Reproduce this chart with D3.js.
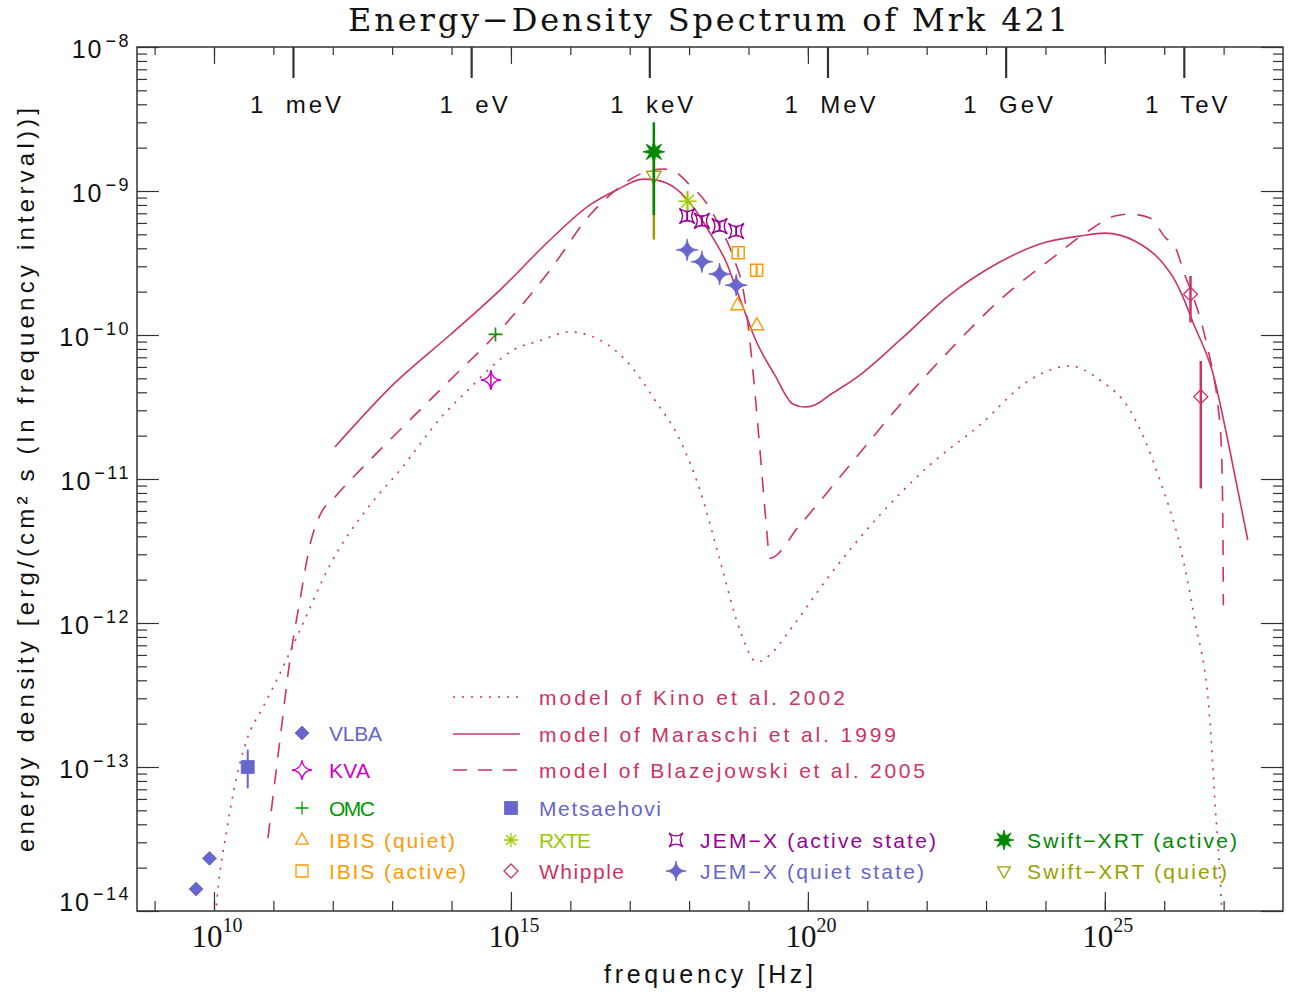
<!DOCTYPE html>
<html><head><meta charset="utf-8">
<script src="https://cdn.jsdelivr.net/npm/d3@7"></script>
<style>body{margin:0;background:#fff}</style>
</head><body>
<script>
// ================= DATA =================
// model of Kino et al. 2002 (dotted)
const kinoNu = [1.0e10,1.18e10,1.64e10,2.41e10,3.56e10,6.76e10,1.14e11,2.81e11,8.97e11,4.23e12,1.35e13,7.24e13,2.04e14,4.43e14,1.09e15,3.08e15,9.84e15,3.15e16,1.01e17,2.65e17,7.0e17,1.52e18,3.30e18,7.16e18,1.38e19,2.29e19,4.98e19,2.34e20,1.63e21,1.13e22,7.87e22,5.46e23,2.58e24,8.24e24,2.64e25,4.71e25,8.43e25,1.83e26,3.27e26,5.86e26,7.11e26,9.33e26,1.0e27];
const kinoE  = [7.1e-15,1.48e-14,3.65e-14,8.57e-14,1.54e-13,2.62e-13,4.02e-13,8.93e-13,2.53e-12,6.59e-12,1.15e-11,2.78e-11,4.27e-11,5.87e-11,7.87e-11,9.12e-11,1.05e-10,9.23e-11,6.19e-11,3.54e-11,1.87e-11,8.39e-12,2.74e-12,8.93e-13,5.36e-13,6.0e-13,8.93e-13,2.15e-12,5.62e-12,1.25e-11,2.37e-11,4.87e-11,6.10e-11,4.87e-11,3.01e-11,1.87e-11,9.84e-12,3.48e-12,1.05e-12,2.12e-13,5.90e-14,1.0e-14,5.0e-15];
// model of Maraschi et al. 1999 (solid)
const marNu = [1.09e12,1.11e13,9.4e13,6.53e14,4.54e15,2.14e16,6.01e16,1.69e17,2.84e17,6.15e17,1.16e18,2.52e18,4.28e18,6.31e18,9.29e18,1.28e19,2.78e19,5.58e19,8.89e19,1.31e20,2.34e20,7.5e20,3.54e21,2.46e22,1.71e23,8.05e23,3.79e24,1.0e25,3.2e25,9.46e25,1.40e26,2.06e26,3.03e26,6.58e26,1.27e27,2.55e27];
const marE  = [1.67e-11,4.65e-11,1.0e-10,2.05e-10,4.57e-10,8.0e-10,1.016e-9,1.21e-9,1.19e-9,1.03e-9,7.78e-10,4.72e-10,3.16e-10,2.05e-10,1.34e-10,9.5e-11,5.27e-11,3.32e-11,3.16e-11,3.27e-11,3.83e-11,5.27e-11,9.2e-11,1.90e-10,3.21e-10,4.29e-10,4.87e-10,5.1e-10,4.5e-10,3.16e-10,2.53e-10,1.84e-10,1.23e-10,5.45e-11,1.59e-11,3.77e-12];
// model of Blazejowski et al. 2005 (dashed)
const blaNu = [8.11e10,1.29e11,1.90e11,2.81e11,4.13e11,6.10e11,1.09e12,4.23e12,1.35e13,9.4e13,6.53e14,4.54e15,2.14e16,6.84e16,1.49e17,3.66e17,5.77e17,9.66e17,1.97e18,3.30e18,5.52e18,8.69e18,1.14e19,1.56e19,1.96e19,2.29e19,7.33e19,5.09e20,3.54e21,2.46e22,1.71e23,1.19e24,5.58e24,1.47e25,2.64e25,5.73e25,1.02e26,1.61e26,2.08e26,3.07e26,4.25e26,5.48e26,6.65e26,8.07e26,9.20e26,9.79e26,9.89e26];
const blaE  = [3.21e-14,1.54e-13,5.53e-13,1.45e-12,3.48e-12,5.62e-12,7.5e-12,1.355e-11,2.19e-11,4.86e-11,1.08e-10,2.82e-10,6.81e-10,1.07e-9,1.31e-9,1.42e-9,1.36e-9,1.13e-9,8.22e-10,5.65e-10,3.50e-10,1.75e-10,6.70e-11,1.59e-11,5.19e-12,2.82e-12,4.80e-12,1.25e-11,3.27e-11,7.87e-11,1.75e-10,3.32e-10,5.36e-10,6.70e-10,6.92e-10,6.49e-10,4.80e-10,3.89e-10,2.82e-10,1.85e-10,1.21e-10,7.87e-11,5.45e-11,3.18e-11,1.59e-11,3.39e-12,1.33e-12];

// observations
const vlbaNu = [5.0e9, 8.4e9];          const vlbaE = [1.42e-14, 2.32e-14];
const metsNu = [3.7e10];                const metsE = [1.0e-13]; const metsLo=[7.1e-14]; const metsHi=[1.32e-13];
const kvaNu  = [4.6e14];                const kvaE  = [4.87e-11]; const kvaLo=[4.3e-11]; const kvaHi=[5.5e-11];
const omcNu  = [5.5e14];                const omcE  = [1.01e-10];
const swqNu  = [2.55e17];               const swqE  = [1.27e-9]; const swqLo=[4.6e-10]; const swqHi=[2.0e-9];
const swaNu  = [2.55e17];               const swaE  = [1.87e-9]; const swaLo=[6.8e-10]; const swaHi=[3.0e-9];
const rxteNu = [9.4e17];                const rxteE = [8.5e-10]; const rxteLo=[7.2e-10]; const rxteHi=[1.0e-9];
const jemaNu = [9.27e17,1.64e18,3.26e18,6.21e18]; const jemaE=[6.7e-10,6.2e-10,5.7e-10,5.27e-10];
const jemaLo = [6.2e-10,5.75e-10,5.3e-10,4.9e-10]; const jemaHi=[7.2e-10,6.7e-10,6.15e-10,5.65e-10];
const jemqNu = [9.27e17,1.64e18,3.26e18,6.21e18]; const jemqE=[3.9e-10,3.23e-10,2.65e-10,2.22e-10];
const ibaNu  = [6.71e18,1.37e19];       const ibaE = [3.73e-10,2.82e-10]; const ibaLo=[3.45e-10,2.6e-10]; const ibaHi=[4.0e-10,3.05e-10];
const ibqNu  = [6.55e18,1.38e19];       const ibqE = [1.61e-10,1.17e-10];
const whipNu = [2.77e26,4.13e26];       const whipE = [1.92e-10,3.73e-11]; const whipLo=[1.22e-10,8.6e-12]; const whipHi=[2.57e-10,6.6e-11];

// axis ticks / labels
const yExps = [-8,-9,-10,-11,-12,-13,-14];
const xLabelExps = [10,15,20,25];
const energyEV = [1e-3,1,1e3,1e6,1e9,1e12];
const energyLabels = ["1  meV","1  eV","1  keV","1  MeV","1  GeV","1  TeV"];
const HZ_PER_EV = 2.138e14;
const modelLabels = ["model of Kino et al. 2002","model of Maraschi et al. 1999","model of Blazejowski et al. 2005"];

// ================= CHART =================
const W=1293,H=996, L=137,R=1283,T=47,B=911;
const MODEL="#cc3366", SLATE="#6666cc", MAG="#cc00cc", OMCG="#009900", ORANGE="#ff9900",
      RXTEC="#99cc00", PURPLE="#990099", SWG="#008800", OLIVE="#99a000";
const SANS="'Liberation Sans', Arial, sans-serif";

const svg = d3.select("body").append("svg").attr("width",W).attr("height",H)
  .style("font-family",SANS);
const x = d3.scaleLog().domain([Math.pow(10,8.7037),1e28]).range([L,R]);
const y = d3.scaleLog().domain([1e-14,1e-8]).range([B,T]);

svg.append("defs").append("clipPath").attr("id","clip")
  .append("rect").attr("x",L).attr("y",T).attr("width",R-L).attr("height",B-T);

// ---- axes (ticks) ----
const decades = d3.range(9,28).map(e=>Math.pow(10,e));
const majorX = xLabelExps.map(e=>Math.pow(10,e));
const yMajor = yExps.map(e=>Math.pow(10,e));
const yMinor = [];
for (let e=-14;e<-8;e++) for (let m=2;m<=9;m++) yMinor.push(m*Math.pow(10,e));

function tickAxis(axis, tr, sw){
  const g = svg.append("g").attr("transform",tr).call(axis);
  g.select(".domain").remove();
  g.selectAll(".tick line").attr("stroke","#333").attr("stroke-width",sw||1.2);
  g.selectAll(".tick text").remove();
  return g;
}
tickAxis(d3.axisBottom(x).tickValues(decades).tickSize(-10).tickFormat(""), `translate(0,${B})`);
tickAxis(d3.axisBottom(x).tickValues(majorX).tickSize(-19).tickFormat(""), `translate(0,${B})`);
tickAxis(d3.axisTop(x).tickValues(decades).tickSize(-8).tickFormat(""), `translate(0,${T})`);
tickAxis(d3.axisTop(x).tickValues(majorX).tickSize(-17).tickFormat(""), `translate(0,${T})`);
tickAxis(d3.axisTop(x).tickValues(energyEV.map(e=>e*HZ_PER_EV)).tickSize(-31).tickFormat(""), `translate(0,${T})`, 2.2);
tickAxis(d3.axisLeft(y).tickValues(yMinor).tickSize(-10).tickFormat(""), `translate(${L},0)`);
tickAxis(d3.axisLeft(y).tickValues(yMajor).tickSize(-22).tickFormat(""), `translate(${L},0)`);
tickAxis(d3.axisRight(y).tickValues(yMinor).tickSize(-10).tickFormat(""), `translate(${R},0)`);
tickAxis(d3.axisRight(y).tickValues(yMajor).tickSize(-22).tickFormat(""), `translate(${R},0)`);

svg.append("rect").attr("x",L).attr("y",T).attr("width",R-L).attr("height",B-T)
  .attr("fill","none").attr("stroke","#333").attr("stroke-width",1.5);

// y tick labels
yExps.forEach(e=>{
  const yy = y(Math.pow(10,e));
  const t = svg.append("text").attr("x",131).attr("y", e===-14 ? yy+0 : yy+11)
    .attr("text-anchor","end").attr("fill","#111").style("font-size","25px").style("letter-spacing","2px");
  t.append("tspan").text("10");
  t.append("tspan").attr("dy",-11).attr("dx",2).style("font-size","18px").style("letter-spacing","2.5px").text("\u2212"+(-e));
});
// x tick labels (serif)
xLabelExps.forEach(e=>{
  const xx = x(Math.pow(10,e));
  const t = svg.append("text").attr("x",xx+3).attr("y",947).attr("text-anchor","middle")
    .attr("fill","#111").style("font-family","'Liberation Serif','Times New Roman',serif").style("font-size","31px");
  t.append("tspan").text("10");
  t.append("tspan").attr("dy",-15).style("font-size","20px").text(e);
});
// energy labels
energyEV.forEach((e,i)=>{
  svg.append("text").attr("x",x(e*HZ_PER_EV)+4).attr("y",113).attr("text-anchor","middle")
    .style("white-space","pre").style("letter-spacing","3px")
    .attr("fill","#111").style("font-size","24px").text(energyLabels[i]);
});

// titles
svg.append("text").attr("x",348).attr("y",31).attr("textLength",720).attr("lengthAdjust","spacing")
  .style("font-family","'DejaVu Serif','Liberation Serif',serif").style("font-size","32px").attr("fill","#111")
  .text("Energy\u2212Density Spectrum of Mrk 421");
svg.append("text").attr("x",604).attr("y",983).attr("textLength",209).attr("lengthAdjust","spacing")
  .style("font-size","25px").attr("fill","#111").text("frequency [Hz]");
svg.append("text").attr("transform","translate(34,852) rotate(-90)")
  .attr("textLength",744).attr("lengthAdjust","spacing")
  .style("font-size","24px").attr("fill","#111")
  .text("energy density [erg/(cm\u00b2 s (ln frequency interval))]");

// ---- model curves ----
const line = d3.line().x(d=>x(d[0])).y(d=>y(d[1])).curve(d3.curveMonotoneX);
const cg = svg.append("g").attr("clip-path","url(#clip)");
const models = [
  {nu:kinoNu,E:kinoE,dash:"2,7"},
  {nu:marNu,E:marE,dash:null},
  {nu:blaNu,E:blaE,dash:"15,12"}
];
models.forEach(m=>{
  cg.append("path").attr("d",line(d3.zip(m.nu,m.E))).attr("fill","none")
    .attr("stroke",MODEL).attr("stroke-width",1.6).attr("stroke-dasharray",m.dash);
});

// ---- symbol shapes ----
const sym = {
  diamond: r=>`M0,${-r}L${r},0L0,${r}L${-r},0Z`,
  square: r=>`M${-r},${-r}H${r}V${r}H${-r}Z`,
  triUp: r=>`M0,${-r}L${r*0.9},${r*0.6}L${-r*0.9},${r*0.6}Z`,
  triDown: r=>`M0,${r}L${r*0.9},${-r*0.6}L${-r*0.9},${-r*0.6}Z`,
  plus: r=>`M${-r},0H${r}M0,${-r}V${r}`,
  aster: r=>{const a=r*0.707;return `M${-r},0H${r}M0,${-r}V${r}M${-a},${-a}L${a},${a}M${-a},${a}L${a},${-a}`;},
  star4: r=>{const c=r*0.08;return `M0,${-r}Q${c},${-c} ${r},0Q${c},${c} 0,${r}Q${-c},${c} ${-r},0Q${-c},${-c} 0,${-r}Z`;},
  star4d: r=>{const a=r*0.707,c=r*0.12;return `M${-a},${-a}Q0,${-c} ${a},${-a}Q${c},0 ${a},${a}Q0,${c} ${-a},${a}Q${-c},0 ${-a},${-a}Z`;},
  star8: (ro)=>{const ri=ro*0.42;let p="";for(let i=0;i<16;i++){const rr=i%2?ri:ro;const an=i*Math.PI/8-Math.PI/2;p+=(i?"L":"M")+(rr*Math.cos(an)).toFixed(2)+","+(rr*Math.sin(an)).toFixed(2);}return p+"Z";}
};
function drawSym(g,cx,cy,shape,r,color,filled,sw){
  g.append("path").attr("transform",`translate(${cx},${cy})`).attr("d",sym[shape](r))
    .attr("fill",filled?color:"none").attr("stroke",color).attr("stroke-width",filled?0.8:(sw||1.5))
    .attr("stroke-linejoin","miter");
}
function errBar(g,nu,lo,hi,color,w,cap){
  const xx=x(nu);
  g.append("line").attr("x1",xx).attr("x2",xx).attr("y1",y(lo)).attr("y2",y(hi)).attr("stroke",color).attr("stroke-width",w);
  if(cap){[lo,hi].forEach(v=>g.append("line").attr("x1",xx-cap).attr("x2",xx+cap).attr("y1",y(v)).attr("y2",y(v)).attr("stroke",color).attr("stroke-width",1.2));}
}
const dg = svg.append("g").attr("clip-path","url(#clip)");

// VLBA
vlbaNu.forEach((n,i)=>drawSym(dg,x(n),y(vlbaE[i]),"diamond",7,SLATE,true));
// Metsaehovi
metsNu.forEach((n,i)=>{errBar(dg,n,metsLo[i],metsHi[i],SLATE,2);drawSym(dg,x(n),y(metsE[i]),"square",6.5,SLATE,true);});
// KVA
kvaNu.forEach((n,i)=>{errBar(dg,n,kvaLo[i],kvaHi[i],MAG,1.6);drawSym(dg,x(n),y(kvaE[i]),"star4",10,MAG,false,1.4);});
// OMC
omcNu.forEach((n,i)=>drawSym(dg,x(n),y(omcE[i]),"plus",7,OMCG,false,1.6));
// Swift quiet + active
swqNu.forEach((n,i)=>{errBar(dg,n,swqLo[i],swqHi[i],OLIVE,2.5);drawSym(dg,x(n),y(swqE[i]),"triDown",8,OLIVE,false,1.3);});
swaNu.forEach((n,i)=>{errBar(dg,n,swaLo[i],swaHi[i],SWG,2.5);drawSym(dg,x(n),y(swaE[i]),"star8",11,SWG,true);});
// RXTE
rxteNu.forEach((n,i)=>{errBar(dg,n,rxteLo[i],rxteHi[i],RXTEC,2);drawSym(dg,x(n),y(rxteE[i]),"aster",9,RXTEC,false,1.5);});
// JEM-X active
jemaNu.forEach((n,i)=>{errBar(dg,n,jemaLo[i],jemaHi[i],PURPLE,2,2.5);drawSym(dg,x(n),y(jemaE[i]),"star4d",11,PURPLE,false,1.4);});
// JEM-X quiet
jemqNu.forEach((n,i)=>drawSym(dg,x(n),y(jemqE[i]),"star4",11,SLATE,true));
// IBIS active / quiet
ibaNu.forEach((n,i)=>{errBar(dg,n,ibaLo[i],ibaHi[i],ORANGE,2);drawSym(dg,x(n),y(ibaE[i]),"square",6,ORANGE,false,1.5);});
ibqNu.forEach((n,i)=>drawSym(dg,x(n),y(ibqE[i]),"triUp",7.5,ORANGE,false,1.4));
// Whipple
whipNu.forEach((n,i)=>{errBar(dg,n,whipLo[i],whipHi[i],MODEL,2.5);drawSym(dg,x(n),y(whipE[i]),"diamond",7,MODEL,false,1.3);});

// ---- legends ----
const lg = svg.append("g");
const lineY=[697,734,770], lineW=[306,357,386];
models.forEach((m,i)=>{
  lg.append("line").attr("x1",453).attr("x2",520).attr("y1",lineY[i]).attr("y2",lineY[i])
    .attr("stroke",MODEL).attr("stroke-width",1.6).attr("stroke-dasharray",m.dash? (i===0?"2,7":"14,11"):null);
  lg.append("text").attr("x",539).attr("y",lineY[i]+8).attr("textLength",lineW[i]).attr("lengthAdjust","spacing")
    .attr("fill",MODEL).style("font-size","21px").text(modelLabels[i]);
});
const entries = [
  ["VLBA",SLATE,"diamond",7,true,302,733,329,53],
  ["KVA",MAG,"star4",10,false,302,770,329,41],
  ["OMC",OMCG,"plus",6.5,false,302,808,329,46],
  ["IBIS (quiet)",ORANGE,"triUp",7,false,302,840,329,126],
  ["IBIS (active)",ORANGE,"square",6,false,302,871,329,137],
  ["Metsaehovi",SLATE,"square",6.5,true,511,808,539,122],
  ["RXTE",RXTEC,"aster",7,false,511,840,539,52],
  ["Whipple",MODEL,"diamond",7,false,511,871,539,85],
  ["JEM-X (active state)",PURPLE,"star4d",10,false,676,840,700,236],
  ["JEM-X (quiet state)",SLATE,"star4",10,true,676,871,700,224],
  ["Swift-XRT (active)",SWG,"star8",10,true,1004,840,1027,210],
  ["Swift-XRT (quiet)",OLIVE,"triDown",7,false,1004,871,1027,200]
];
entries.forEach(e=>{
  drawSym(lg,e[5],e[6],e[2],e[3],e[1],e[4],1.3);
  lg.append("text").attr("x",e[7]).attr("y",e[6]+8).attr("textLength",e[8]).attr("lengthAdjust","spacing")
    .attr("fill",e[1]).style("font-size","21px").text(e[0].replace("-","\u2212"));
});
</script>
</body></html>
